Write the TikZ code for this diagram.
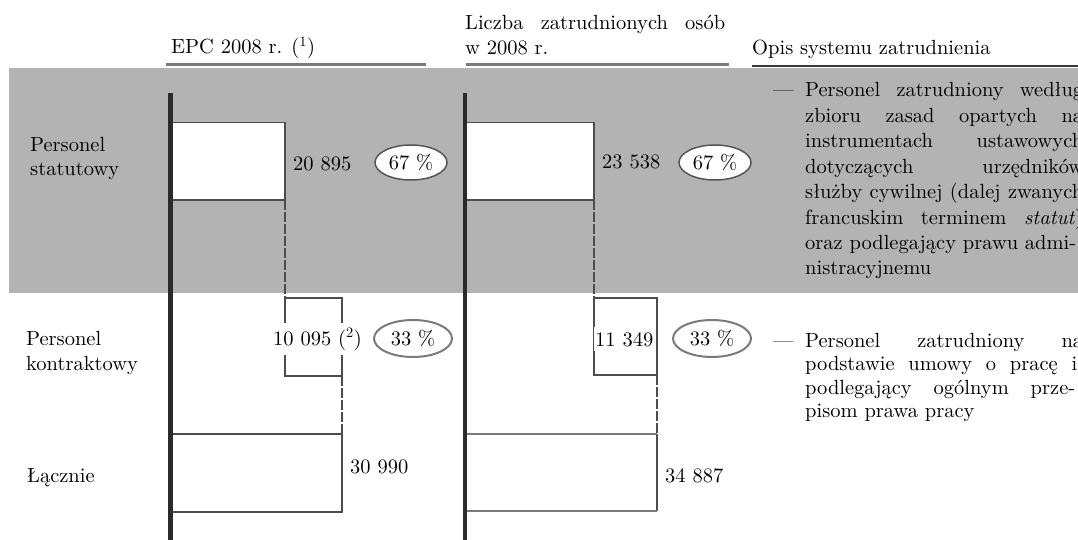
\documentclass[tikz,border=0pt]{standalone}
\usepackage{fontspec}
\setmainfont{lmroman10}[Extension=.otf, UprightFont=*-regular, ItalicFont=*-italic, BoldFont=*-bold]
\usetikzlibrary{shapes.geometric}
\definecolor{bandc}{HTML}{B3B3B3}
\definecolor{barc}{HTML}{2B2B2B}
\definecolor{boxc}{HTML}{4D4D4D}
\definecolor{ulc}{HTML}{7A7A7A}
\definecolor{ulc2}{HTML}{3A3A3A}
\definecolor{ellc}{HTML}{555555}
\definecolor{ellc2}{HTML}{7A7A7A}
\begin{document}
\begin{tikzpicture}[x=1pt,y=-1pt,
  every node/.style={inner sep=0pt, font=\fontsize{20.5}{24}\selectfont},
  barline/.style={line width=4.5pt, draw=barc},
  boxline/.style={draw=boxc, line width=1.5pt},
  dashline/.style={draw=boxc, line width=1.5pt, dash pattern=on 10pt off 2pt},
  lbl/.style={anchor=base west},
  num/.style={anchor=base west},
  numw/.style={anchor=base west, fill=white, inner xsep=1pt, inner ysep=5pt},
  pcta/.style={ellipse, draw=ellc, fill=white, line width=1.5pt, minimum width=72pt, minimum height=35pt},
  pctb/.style={ellipse, draw=ellc2, line width=2pt, minimum width=78pt, minimum height=37pt},
  para/.style={anchor=base west},
]
\useasboundingbox (0,0) rectangle (1078,540);
\clip (0,0) rectangle (1078,540);
% grey band
\fill[bandc] (9,68.5) rectangle (1078,293);
% header underlines
\draw[line width=3pt, draw=ulc] (166,64.5) -- (426,64.5);
\draw[line width=3pt, draw=ulc] (466,64.5) -- (729,64.5);
\draw[line width=2pt, draw=ulc2] (752,66) -- (1078,66);
% header texts
\node[lbl] (hEPC) at (171,54) {EPC 2008 r. (\textsuperscript{1})};
\node[lbl] (hLiczba) at (465,30) {\makebox[260pt][s]{Liczba zatrudnionych osób}};
\node[lbl] (hW) at (465,55) {w 2008 r.};
\node[lbl] (hOpis) at (752,55) {Opis systemu zatrudnienia};
% row labels
\node[lbl] (lS1) at (30,152) {Personel};
\node[lbl] (lS2) at (30,176) {statutowy};
\node[lbl] (lK1) at (26,345) {Personel};
\node[lbl] (lK2) at (26,370) {kontraktowy};
\node[lbl] (lL) at (27,482) {Łącznie};
% column 1 (EPC)
\draw[boxline, fill=white] (170,122.5) rectangle (285,200);
\draw[dashline] (285,200) -- (285,298);
\draw[boxline] (285,298) rectangle (342,376);
\draw[dashline] (342,376) -- (342,434);
\draw[boxline] (170,434) rectangle (342,512);
\draw[barline] (170.5,93) -- (170.5,545);
% column 2
\draw[boxline, fill=white] (465,122.5) rectangle (594,200);
\draw[dashline] (594,200) -- (594,298);
\draw[boxline] (594,298) rectangle (657,375);
\draw[dashline] (657,375) -- (657,434);
\draw[boxline] (657,434) -- (657,511);
\draw[line width=2.5pt, draw=ulc] (465,434) -- (657,434);
\draw[line width=2.5pt, draw=ulc] (465,511) -- (657,511);
\draw[barline] (465,93) -- (465,545);
% numbers
\node[num] (n1) at (293,171) {20 895};
\node[pcta] (p1) at (411,162.5) {67 \%};
\node[num] (n2) at (602,168) {23 538};
\node[pcta] (p2) at (715,162.5) {67 \%};
\node[numw] (n3) at (272,345) {10 095 (\textsuperscript{2})};
\node[pctb] (p3) at (413,338.5) {33 \%};
\node[numw] (n4) at (594,346) {11 349};
\node[pctb] (p4) at (712,338.5) {33 \%};
\node[num] (n5) at (350,473) {30 990};
\node[num] (n6) at (665,482) {34 887};
% description paragraphs
\node[para] (d1) at (773,97) {—};
\node[para] (a1) at (805,97) {\makebox[278pt][s]{Personel zatrudniony według}};
\node[para] (a2) at (805,122.4) {\makebox[278pt][s]{zbioru zasad opartych na}};
\node[para] (a3) at (805,147.8) {\makebox[278pt][s]{instrumentach ustawowych}};
\node[para] (a4) at (805,173.2) {\makebox[278pt][s]{dotyczących urzędników}};
\node[para] (a5) at (805,198.6) {\makebox[278pt][s]{służby cywilnej (dalej zwanych}};
\node[para] (a6) at (805,224) {\makebox[278pt][s]{francuskim terminem \textit{statut})}};
\node[para] (a7) at (805,249.4) {\makebox[271pt][s]{oraz podlegający prawu admi-}};
\node[para] (a8) at (805,274.8) {nistracyjnemu};
\node[para] (d2) at (773,347) {—};
\node[para] (b1) at (805,347) {\makebox[278pt][s]{Personel zatrudniony na}};
\node[para] (b2) at (805,370.5) {\makebox[272pt][s]{podstawie umowy o pracę i}};
\node[para] (b3) at (805,394) {\makebox[270pt][s]{podlegający ogólnym prze-}};
\node[para] (b4) at (805,417.5) {pisom prawa pracy};
\end{tikzpicture}
\end{document}
